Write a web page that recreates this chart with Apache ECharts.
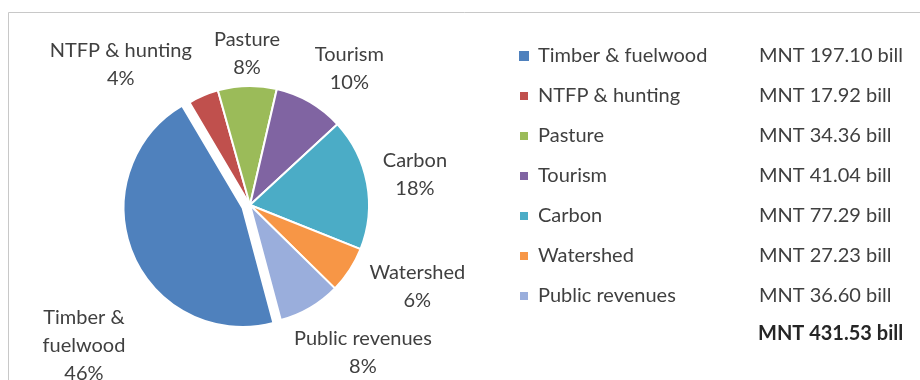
<!DOCTYPE html>
<html>
<head>
<meta charset="utf-8">
<style>
  html, body { margin: 0; padding: 0; background: #ffffff; }
  #chart { width: 920px; height: 380px; }
</style>
<script src="https://cdn.jsdelivr.net/npm/echarts@6/dist/echarts.min.js"></script>
</head>
<body>
<div id="chart"></div>
<script>
// Forest ecosystem service values, MNT billion
const categories = ['Timber & fuelwood', 'NTFP & hunting', 'Pasture', 'Tourism', 'Carbon', 'Watershed', 'Public revenues'];
const pieLabelNames = ['Timber &\nfuelwood', 'NTFP & hunting', 'Pasture', 'Tourism', 'Carbon', 'Watershed', 'Public revenues'];
const values = [197.10, 17.92, 34.36, 41.04, 77.29, 27.23, 36.60];
const valueLabels = ['197.10', '17.92', '34.36', '41.04', '77.29', '27.23', '36.60'];
const totalLabel = '431.53';
const colors = ['#4F81BD', '#C0504D', '#9BBB59', '#8064A2', '#4BACC6', '#F79646', '#9AAEDC'];

const FONT = 'Lato, "DejaVu Sans", sans-serif';
const TEXT = '#404040';
const CLEAR = 'rgba(0,0,0,0)';

// pie geometry
const PIE_CENTER = [250, 205];
const PIE_RADIUS = 119;
const START_ANGLE = -75;
const EXPLODE = 8;         // pull-out distance of the first slice
const EXPLODED_INDEX = 0;

// small per-label nudges, applied after the library places each label
const labelNudge = [
  [3, 89], [-1, -18], [38, -18], [-7, -21], [-3, -6], [3, 9], [-28, 33]
];

// direction of the pulled-out slice, from its share of the whole
const total = values.reduce((a, b) => a + b, 0);
const before = values.slice(0, EXPLODED_INDEX).reduce((a, b) => a + b, 0);
const midDeg = START_ANGLE - 360 * (before + values[EXPLODED_INDEX] / 2) / total;
const midRad = midDeg * Math.PI / 180;
const explodedCenter = [
  PIE_CENTER[0] + EXPLODE * Math.cos(midRad),
  PIE_CENTER[1] - EXPLODE * Math.sin(midRad)
];

const chart = echarts.init(document.getElementById('chart'));

// main pie: every slice except the pulled-out one, plus all labels
const mainData = categories.map((name, i) => ({
  name: name,
  value: values[i],
  itemStyle: i === EXPLODED_INDEX
    ? { color: CLEAR, borderColor: CLEAR, borderWidth: 0 }
    : { color: colors[i] }
}));

// pulled-out slice, drawn from the same values with a shifted centre
const explodedData = categories.map((name, i) => ({
  name: name,
  value: values[i],
  itemStyle: i === EXPLODED_INDEX
    ? { color: colors[i] }
    : { color: CLEAR, borderColor: CLEAR, borderWidth: 0 }
}));

chart.setOption({
  animation: false,
  backgroundColor: '#ffffff',
  color: colors,
  graphic: [
    {
      type: 'rect',
      shape: { x: 8.5, y: 12.5, width: 1200, height: 1200 },
      style: { fill: null, stroke: '#c8c8c8', lineWidth: 1 },
      silent: true
    },
    {
      type: 'text',
      left: 758,
      top: 324,
      style: {
        text: 'MNT ' + totalLabel + ' bill',
        font: 'bold 20px ' + FONT,
        fill: '#262626'
      }
    }
  ],
  legend: {
    orient: 'vertical',
    left: 513,
    top: 40,
    itemWidth: 10,
    itemHeight: 10,
    itemGap: 18,
    icon: 'rect',
    data: categories.map((name, i) => ({ name: name, itemStyle: { color: colors[i] } })),
    formatter: function (name) {
      const i = categories.indexOf(name);
      return '{n|' + name + '}{v|MNT ' + valueLabels[i] + ' bill}';
    },
    textStyle: {
      fontFamily: FONT,
      fontSize: 20,
      color: TEXT,
      rich: {
        n: { fontFamily: FONT, fontSize: 20, color: TEXT, width: 221, padding: [0, 0, 0, 4], height: 22, lineHeight: 22 },
        v: { fontFamily: FONT, fontSize: 20, color: TEXT, height: 22, lineHeight: 22 }
      }
    },
    selectedMode: false
  },
  series: [
    {
      name: 'values',
      type: 'pie',
      center: PIE_CENTER,
      radius: PIE_RADIUS,
      startAngle: START_ANGLE,
      clockwise: true,
      avoidLabelOverlap: false,
      itemStyle: { borderColor: '#ffffff', borderWidth: 2 },
      label: {
        show: true,
        position: 'outside',
        fontFamily: FONT,
        fontSize: 20,
        lineHeight: 28,
        color: TEXT,
        formatter: function (p) {
          return pieLabelNames[p.dataIndex] + '\n' + Math.round(p.percent) + '%';
        }
      },
      labelLine: { show: false, length: 14, length2: 0 },
      labelLayout: function (p) {
        const r = p.labelRect;
        const n = labelNudge[p.dataIndex];
        return {
          x: r.x + r.width / 2 + n[0],
          y: r.y + r.height / 2 + n[1],
          align: 'center',
          verticalAlign: 'middle'
        };
      },
      emphasis: { disabled: true },
      silent: true,
      data: mainData
    },
    {
      name: 'exploded',
      type: 'pie',
      center: explodedCenter,
      radius: PIE_RADIUS,
      startAngle: START_ANGLE,
      clockwise: true,
      itemStyle: { borderColor: '#ffffff', borderWidth: 2 },
      label: { show: false },
      labelLine: { show: false },
      emphasis: { disabled: true },
      silent: true,
      data: explodedData
    }
  ]
});
</script>
</body>
</html>
